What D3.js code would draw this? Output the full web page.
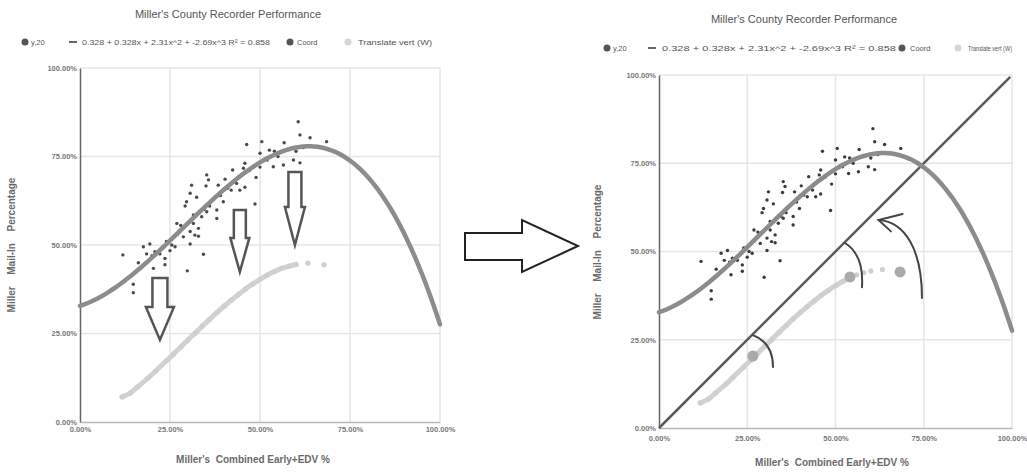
<!DOCTYPE html>
<html>
<head>
<meta charset="utf-8">
<script src="https://cdn.jsdelivr.net/npm/d3@7"></script>
<style>
  html, body { margin: 0; padding: 0; background: #fff; }
  svg { display: block; font-family: "Liberation Sans", Arial, sans-serif; }
</style>
</head>
<body>
<svg id="chart" width="1027" height="474"></svg>
<script>
// ---- data ----
const xTicks = [0, 0.25, 0.5, 0.75, 1];
const yTicks = [0, 0.25, 0.5, 0.75, 1];

// cubic trendline coefficients (a + bx + cx^2 + dx^3)
const fitCoef = [0.328, 0.328, 2.31, -2.69];
const fitLabel = "0.328 + 0.328x + 2.31x^2 + -2.69x^3 R\u00b2 = 0.858";

// y,20 scatter
const y20X = [0.119,0.148,0.148,0.162,0.176,0.185,0.194,0.204,0.208,0.222,0.231,0.236,0.236,0.250,0.264,
  0.269,0.278,0.287,0.292,0.296,0.298,0.306,0.306,0.306,0.310,0.315,0.319,0.324,0.329,0.329,
  0.338,0.343,0.350,0.352,0.352,0.357,0.380,0.380,0.384,0.398,0.403,0.424,0.435,0.444,0.454,
  0.458,0.458,0.463,0.486,0.489,0.500,0.505,0.526,0.537,0.565,0.567,0.593,0.606,0.611,0.611,
  0.639,0.685,0.200,0.240,0.270,0.330,0.370,0.410,0.450,0.470,0.520,0.550,0.580,0.620,0.345,
  0.390,0.430,0.255,0.280,0.420,0.360,0.315,0.500,0.540,0.600];
const y20Y = [0.472,0.389,0.365,0.450,0.495,0.475,0.503,0.434,0.481,0.475,0.495,0.462,0.444,0.484,0.495,
  0.561,0.542,0.523,0.610,0.622,0.427,0.646,0.538,0.503,0.669,0.561,0.528,0.635,0.547,0.525,
  0.580,0.474,0.667,0.698,0.594,0.684,0.599,0.575,0.669,0.622,0.686,0.712,0.674,0.655,0.717,
  0.731,0.663,0.784,0.616,0.691,0.759,0.792,0.768,0.721,0.726,0.789,0.740,0.848,0.811,0.732,
  0.803,0.792,0.470,0.510,0.530,0.590,0.630,0.660,0.700,0.710,0.740,0.750,0.770,0.775,0.600,
  0.640,0.680,0.500,0.555,0.655,0.610,0.585,0.720,0.765,0.765];

// Translate vert (W)
const transX = [0.117,0.140,0.160,0.190,0.210,0.240,0.260,0.280,0.300,0.320,0.340,0.360,0.380,
  0.400,0.420,0.440,0.460,0.480,0.500,0.520,0.540,0.560,0.580,0.600,0.633,0.678];
const transY = [0.071,0.082,0.099,0.125,0.144,0.173,0.192,0.212,0.232,0.251,0.271,0.290,0.309,
  0.327,0.344,0.360,0.376,0.390,0.403,0.415,0.425,0.434,0.440,0.445,0.449,0.444];

// Coord
const coordX = [0.266, 0.541, 0.683];
const coordY = [0.204, 0.428, 0.442];

// reference diagonal (y = x)
const refLine = [0, 0.995];

const titleText = "Miller's County Recorder Performance";
const xTitle = "Miller's  Combined Early+EDV %";
const yTitle = "Miller  Mail-In  Percentage";
const legendNames = ["y,20", fitLabel, "Coord", "Translate vert (W)"];

// ---- drawing ----
const svg = d3.select("#chart");
svg.append("rect").attr("width", 1027).attr("height", 474).attr("fill", "#fff");

const fmt = d3.format(".2%");
const fitFn = x => fitCoef[0] + fitCoef[1]*x + fitCoef[2]*x*x + fitCoef[3]*x*x*x;

function drawPanel(p) {
  const g = svg.append("g");
  const x = d3.scaleLinear().domain([0, 1]).range([p.x0, p.x1]);
  const y = d3.scaleLinear().domain([0, 1]).range([p.y0, p.y1]);

  // gridlines
  g.append("g").selectAll("line").data(xTicks.slice(1)).join("line")
    .attr("x1", d => x(d)).attr("x2", d => x(d)).attr("y1", y(0)).attr("y2", y(1))
    .attr("stroke", "#e6e6e6").attr("stroke-width", 1.5);
  g.append("g").selectAll("line").data(yTicks.slice(1)).join("line")
    .attr("x1", x(0)).attr("x2", x(1)).attr("y1", d => y(d)).attr("y2", d => y(d))
    .attr("stroke", "#e6e6e6").attr("stroke-width", 1.5);

  // axes
  const xAxis = d3.axisBottom(x).tickValues(xTicks).tickFormat(fmt).tickSize(0).tickPadding(p.xPad);
  const yAxis = d3.axisLeft(y).tickValues(yTicks).tickFormat(fmt).tickSize(0).tickPadding(3);
  const gx = g.append("g").attr("transform", `translate(0,${p.y0})`).call(xAxis);
  gx.select(".domain").attr("stroke", "#b8b8b8").attr("stroke-width", 1.5);
  const gy = g.append("g").attr("transform", `translate(${p.x0},0)`).call(yAxis);
  gy.select(".domain").attr("stroke", "#666").attr("stroke-width", 1.5);
  g.selectAll(".tick text").attr("fill", "#777").attr("font-size", 7.5)
    .attr("font-weight", "bold").attr("font-family", "Liberation Sans, Arial, sans-serif");

  // axis titles
  g.append("text").attr("x", p.xTitleX).attr("y", p.xTitleY).attr("text-anchor", "middle")
    .attr("font-size", 10).attr("font-weight", "bold").attr("fill", "#6a6a6a")
    .attr("xml:space", "preserve").text(xTitle);
  g.append("text").attr("transform", `translate(${p.yTitleX},${p.yTitleY}) rotate(-90)`)
    .attr("text-anchor", "middle").attr("font-size", 10).attr("font-weight", "bold")
    .attr("fill", "#6a6a6a").attr("xml:space", "preserve").attr("word-spacing", 3).text(yTitle);

  // chart title
  g.append("text").attr("x", p.titleX).attr("y", p.titleY).attr("text-anchor", "middle")
    .attr("font-size", 11).attr("fill", "#555").text(titleText);

  // legend
  const lg = g.append("g").attr("font-size", 7.5).attr("fill", "#555");
  const ly = p.legendY;
  lg.append("circle").attr("cx", p.leg[0]).attr("cy", ly).attr("r", 3.5).attr("fill", "#555");
  lg.append("text").attr("x", p.leg[1]).attr("y", ly).attr("dy", "0.35em").text(legendNames[0]);
  lg.append("line").attr("x1", p.leg[2]).attr("x2", p.leg[2] + 8).attr("y1", ly).attr("y2", ly)
    .attr("stroke", "#666").attr("stroke-width", 2);
  lg.append("text").attr("x", p.leg[3]).attr("y", ly).attr("dy", "0.35em")
    .attr("textLength", p.fitW).attr("lengthAdjust", "spacingAndGlyphs").text(legendNames[1]);
  lg.append("circle").attr("cx", p.leg[4]).attr("cy", ly).attr("r", 3.5).attr("fill", "#555");
  lg.append("text").attr("x", p.leg[5]).attr("y", ly).attr("dy", "0.35em").text(legendNames[2]);
  lg.append("circle").attr("cx", p.leg[6]).attr("cy", ly).attr("r", 3.5).attr("fill", "#d6d6d6");
  lg.append("text").attr("x", p.leg[7]).attr("y", ly).attr("dy", "0.35em")
    .attr("textLength", p.transW).attr("lengthAdjust", "spacingAndGlyphs").text(legendNames[3]);

  const plot = g.append("g");

  // reference diagonal
  if (p.showRef) {
    plot.append("line").attr("x1", x(refLine[0])).attr("y1", y(refLine[0]))
      .attr("x2", x(refLine[1])).attr("y2", y(refLine[1]))
      .attr("stroke", "#5a5a5a").attr("stroke-width", 2.5);
  }

  // translated series
  const tPts = transX.map((v, i) => [v, transY[i]]);
  plot.append("path").datum(tPts.slice(0, p.transLineEnd))
    .attr("d", d3.line().x(d => x(d[0])).y(d => y(d[1])).curve(d3.curveMonotoneX))
    .attr("fill", "none").attr("stroke", "#d2d2d2").attr("stroke-width", 5)
    .attr("stroke-linecap", "round");
  plot.append("g").selectAll("circle").data(tPts).join("circle")
    .attr("cx", d => x(d[0])).attr("cy", d => y(d[1])).attr("r", 2.6).attr("fill", "#cfcfcf");

  // scatter
  plot.append("g").selectAll("circle").data(y20X.map((v, i) => [v, y20Y[i]])).join("circle")
    .attr("cx", d => x(d[0])).attr("cy", d => y(d[1])).attr("r", 1.7).attr("fill", p.dotColor);

  // trendline
  const fitPts = d3.range(0, 1.0001, 0.01).map(v => [v, fitFn(v)]);
  plot.append("path").datum(fitPts)
    .attr("d", d3.line().x(d => x(d[0])).y(d => y(d[1])))
    .attr("fill", "none").attr("stroke", "#8c8c8c").attr("stroke-width", 4.5)
    .attr("stroke-linecap", "round");

  // coord points
  if (p.showCoord) {
    plot.append("g").selectAll("circle").data(coordX.map((v, i) => [v, coordY[i]])).join("circle")
      .attr("cx", d => x(d[0])).attr("cy", d => y(d[1])).attr("r", 5.5).attr("fill", "#aaaaaa");
  }

  return { g, x, y };
}

// left panel
const L = drawPanel({
  x0: 80, x1: 440, y0: 422, y1: 68, xPad: 5,
  titleX: 228, titleY: 18, legendY: 42,
  leg: [25, 31, 69, 82, 290, 297, 348, 358], fitW: 188, transW: 74,
  xTitleX: 253, xTitleY: 463, yTitleX: 15, yTitleY: 245,
  showRef: false, showCoord: false, transLineEnd: 24, dotColor: "#4a4a4a"
});

// right panel
const R = drawPanel({
  x0: 659, x1: 1012, y0: 428, y1: 75, xPad: 8,
  titleX: 804, titleY: 23, legendY: 48,
  leg: [607, 613, 648, 662, 902, 910, 958, 968], fitW: 234, transW: 44,
  xTitleX: 832, xTitleY: 466, yTitleX: 601, yTitleY: 252,
  showRef: true, showCoord: true, transLineEnd: 21, dotColor: "#3a3a3a"
});

// hollow down arrows on the left panel (data units)
const downArrows = [
  { cx: 0.222, top: 0.407, base: 0.325, tip: 0.232, sw: 7.5, hw: 14 },
  { cx: 0.444, top: 0.599, base: 0.520, tip: 0.424, sw: 6,   hw: 9.5 },
  { cx: 0.597, top: 0.706, base: 0.607, tip: 0.500, sw: 6.5, hw: 10 }
];
L.g.append("g").selectAll("path").data(downArrows).join("path")
  .attr("d", a => {
    const c = L.x(a.cx), t = L.y(a.top), b = L.y(a.base), tp = L.y(a.tip);
    return `M${c - a.sw},${t}L${c + a.sw},${t}L${c + a.sw},${b}L${c + a.hw},${b}L${c},${tp}L${c - a.hw},${b}L${c - a.sw},${b}Z`;
  })
  .attr("fill", "#fff").attr("fill-opacity", 0.85)
  .attr("stroke", "#555").attr("stroke-width", 2.5).attr("stroke-linejoin", "miter");

// curved arrows on the right panel (data units)
const rx = R.x, ry = R.y;
const curves = R.g.append("g").attr("fill", "none").attr("stroke", "#444")
  .attr("stroke-width", 2).attr("stroke-linecap", "round");
// large arrow from the translated series up to the diagonal
curves.append("path").attr("d",
  `M${rx(0.745)},${ry(0.368)} C${rx(0.745)},${ry(0.505)} ${rx(0.697)},${ry(0.584)} ${rx(0.622)},${ry(0.589)}`);
curves.append("path").attr("d",
  `M${rx(0.690)},${ry(0.606)} L${rx(0.622)},${ry(0.589)} L${rx(0.657)},${ry(0.557)}`);
// arcs from the diagonal down toward the coord points
curves.append("path").attr("d",
  `M${rx(0.527)},${ry(0.524)} Q${rx(0.581)},${ry(0.490)} ${rx(0.575)},${ry(0.399)}`);
curves.append("path").attr("d",
  `M${rx(0.266)},${ry(0.263)} Q${rx(0.323)},${ry(0.241)} ${rx(0.323)},${ry(0.173)}`);

// connecting arrow between the two panels
svg.append("path")
  .attr("d", "M465,233 L522,233 L522,220 L578,246 L522,272 L522,260 L465,260 Z")
  .attr("fill", "#fff").attr("stroke", "#222").attr("stroke-width", 2).attr("stroke-linejoin", "miter");
</script>
</body>
</html>
